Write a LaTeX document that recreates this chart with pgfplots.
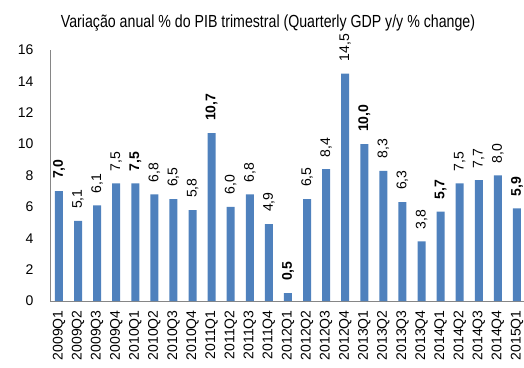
\documentclass[border=0pt]{standalone}
\usepackage{pgfplots}
\pgfplotsset{compat=1.18}
\usepackage{fontspec}
\setmainfont{Liberation Sans}
\newfontfamily\narrowfont{Liberation Sans}[FakeStretch=0.81]
\definecolor{barblue}{HTML}{4F81BD}
\definecolor{axgray}{HTML}{868686}
\begin{document}
\begin{tikzpicture}
\begin{axis}[
  scale only axis, width=474bp, height=251bp,
  xmin=-0.47, xmax=24.37, ymin=0, ymax=16,
  ytick={0,2,...,16},
  xtick={0,...,24},
  xticklabels={2009Q1,2009Q2,2009Q3,2009Q4,2010Q1,2010Q2,2010Q3,2010Q4,2011Q1,2011Q2,2011Q3,2011Q4,2012Q1,2012Q2,2012Q3,2012Q4,2013Q1,2013Q2,2013Q3,2013Q4,2014Q1,2014Q2,2014Q3,2014Q4,2015Q1},
  x tick label style={rotate=90, anchor=east, font=\fontsize{14bp}{16bp}\selectfont, xshift=-6bp},
  y tick label style={font=\fontsize{14bp}{16bp}\selectfont, xshift=-13bp},
  axis x line=bottom, axis y line=left,
  axis line style={axgray, -, line width=1bp},
  major tick length=0pt,
  ybar, bar width=8bp, bar shift=0pt,
  /pgf/number format/assume math mode=true,
  nodes near coords,
  nodes near coords style={rotate=90, anchor=west, inner xsep=12bp, inner ysep=0pt, font=\fontsize{14bp}{16bp}\selectfont, black,
    /pgf/number format/fixed, /pgf/number format/fixed zerofill, /pgf/number format/precision=1, /pgf/number format/use comma},
  clip=false,
]
\coordinate (O) at (rel axis cs:0,0);
\addplot[fill=barblue, draw=none] coordinates {
 (1,5.1) (2,6.1) (3,7.5) (5,6.8) (6,6.5) (7,5.8) (9,6.0) (10,6.8) (11,4.9)
 (13,6.5) (14,8.4) (15,14.5) (17,8.3) (18,6.3) (19,3.8) (21,7.5) (22,7.7) (23,8.0)};
\addplot[fill=barblue, draw=none, every node near coord/.append style={font=\fontsize{14bp}{16bp}\selectfont\bfseries}] coordinates {
 (0,7.0) (4,7.5) (8,10.7) (12,0.5) (16,10.0) (20,5.7) (24,5.9)};
\end{axis}
\path (O) ++(218bp,278bp) node[font=\narrowfont\fontsize{17.5bp}{20bp}\selectfont, inner sep=0pt] {Variação anual \% do PIB trimestral (Quarterly GDP y/y \% change)};
\pgfresetboundingbox
\path (O) ++(-50bp,-67bp) rectangle ++(524bp,368bp);
\end{tikzpicture}
\end{document}
